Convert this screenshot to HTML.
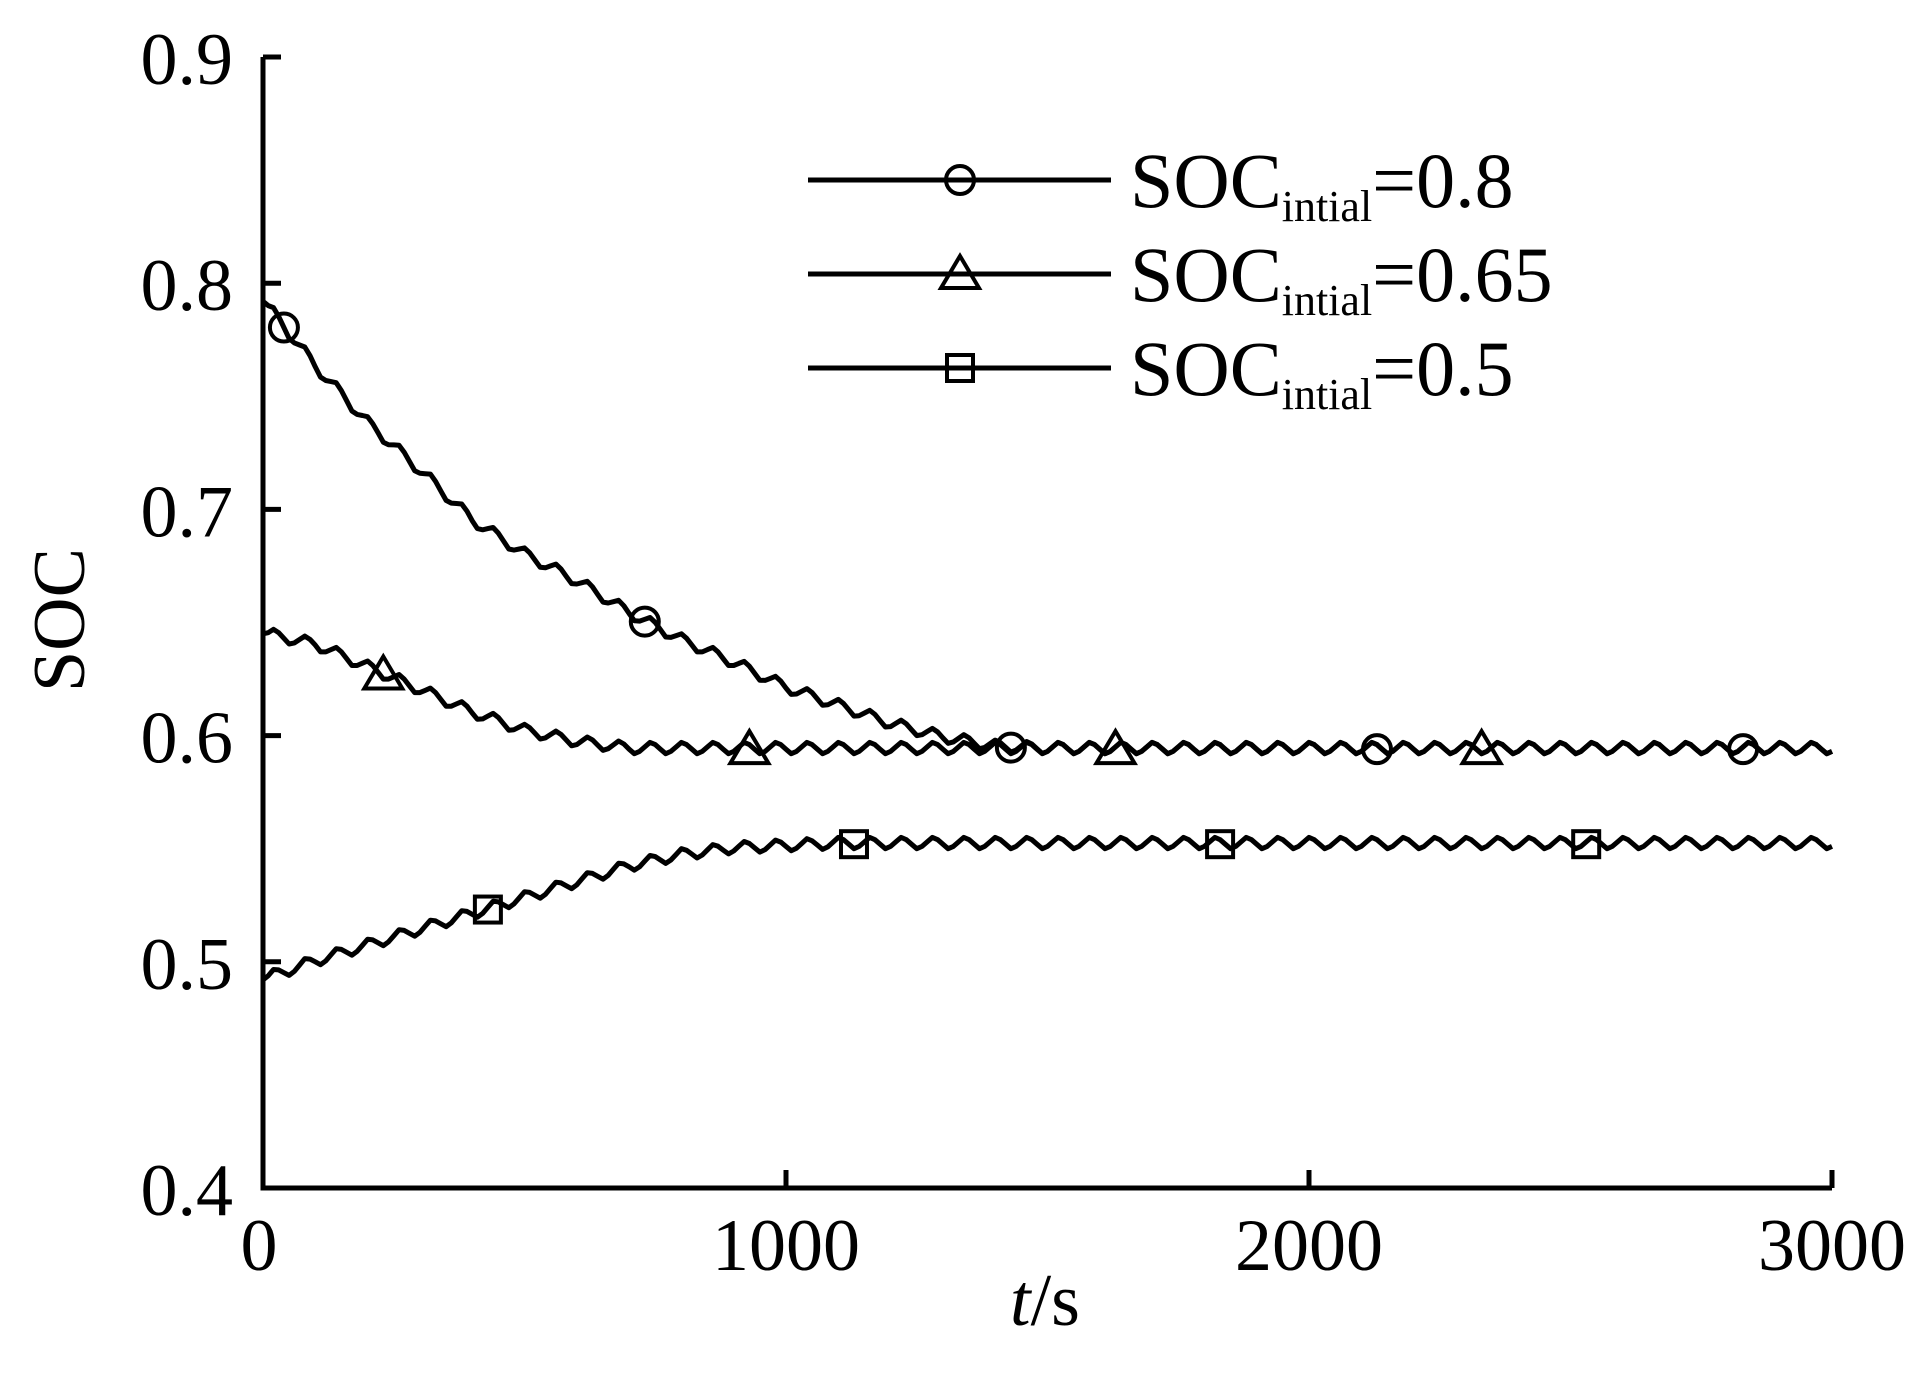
<!DOCTYPE html>
<html><head><meta charset="utf-8"><style>
html,body{margin:0;padding:0;background:#fff;}
svg{display:block;font-family:"Liberation Serif",serif;}
</style></head><body>
<svg id="chart" width="1925" height="1376" viewBox="0 0 1925 1376" xmlns="http://www.w3.org/2000/svg">
<g id="axes"></g>
<g id="series"></g>
<g id="legend"></g>
</svg>
<script>
const times = [0,100,200,300,400,500,600,700,800,900,1000,1100,1200,1300,1400,1500,1600,1700,1800,1900,2000,2100,2200,2300,2400,2500,2600,2700,2800,2900,3000];
const soc08 = [0.792,0.763,0.738,0.717,0.695,0.680,0.668,0.654,0.642,0.632,0.621,0.613,0.605,0.599,0.595,0.594,0.594,0.594,0.594,0.594,0.594,0.594,0.594,0.594,0.594,0.594,0.594,0.594,0.594,0.594,0.594];
const soc065 = [0.645,0.640,0.630,0.620,0.610,0.602,0.597,0.594,0.594,0.594,0.594,0.594,0.594,0.594,0.594,0.594,0.594,0.594,0.594,0.594,0.594,0.594,0.594,0.594,0.594,0.594,0.594,0.594,0.594,0.594,0.594];
const soc05 = [0.492,0.500,0.507,0.514,0.521,0.528,0.535,0.542,0.547,0.550,0.551,0.552,0.552,0.552,0.552,0.552,0.552,0.552,0.552,0.552,0.552,0.552,0.552,0.552,0.552,0.552,0.552,0.552,0.552,0.552,0.552];
const xTicks = [0,1000,2000,3000];
const yTicks = [0.4,0.5,0.6,0.7,0.8,0.9];
const yTickLabels = ["0.4","0.5","0.6","0.7","0.8","0.9"];
const circleTimes = [40,730,1430,2130,2830];
const triTimes = [230,930,1630,2330];
const sqTimes = [430,1130,1830,2530];
const legendLabels = ["=0.8","=0.65","=0.5"];

const NS="http://www.w3.org/2000/svg";
const X0=263,X1=1832,Y0=1188,Y1=57;
function xs(t){return X0+(t-0)/(3000-0)*(X1-X0);}
function ys(v){return Y0-(v-0.4)/(0.9-0.4)*(Y0-Y1);}
function mk(tag,attrs,parent){const e=document.createElementNS(NS,tag);for(const k in attrs)e.setAttribute(k,attrs[k]);parent.appendChild(e);return e;}
const axes=document.getElementById('axes'),series=document.getElementById('series'),legend=document.getElementById('legend');

let a=mk('path',{d:`M${X0},${Y1} V${Y0} H${X1}`,fill:'none',stroke:'#000','stroke-width':5},axes);


yTicks.forEach((v,i)=>{
  const t=mk('line',{x1:X0,x2:X0+18,y1:ys(v),y2:ys(v),stroke:'#000','stroke-width':5},axes);
  
  
  const l=mk('text',{x:233,y:ys(v)+27,'text-anchor':'end','font-size':74},axes);
  l.textContent=yTickLabels[i];
  
  
});
xTicks.forEach(v=>{
  const t=mk('line',{x1:xs(v),x2:xs(v),y1:Y0,y2:Y0-18,stroke:'#000','stroke-width':5},axes);
  
  
  const l=mk('text',{x:xs(v)-(v===0?4:0),y:1270,'text-anchor':'middle','font-size':74},axes);
  l.textContent=String(v);
  
  
});
let yt=mk('text',{x:0,y:0,'text-anchor':'middle','font-size':74,transform:'translate(84,620) rotate(-90)'},axes);
yt.textContent='SOC';


let xt=mk('text',{x:1045,y:1325,'text-anchor':'middle','font-size':74},axes);
xt.innerHTML='<tspan font-style="italic">t</tspan>/s';



function interp(arr,t){const i=Math.min(Math.floor(t/100),arr.length-2);const f=(t-times[i])/100;return arr[i]+(arr[i+1]-arr[i])*f;}
const ripple=[0,0.002,0.004,0.003,0.001,-0.001,-0.002];
function drawSeries(arr,name){
  let d='';
  for(let t=0;t<=3000;t+=10){
    const v=interp(arr,t)+(t>0?ripple[(t/10)%6]-0.001:0);
    d+=(t===0?'M':'L')+xs(t).toFixed(1)+','+ys(v).toFixed(1);
  }
  const p=mk('path',{d:d,fill:'none',stroke:'#000','stroke-width':5,'stroke-linejoin':'round'},series);
  
  
}
drawSeries(soc08,'line-soc-0-8');
drawSeries(soc065,'line-soc-0-65');
drawSeries(soc05,'line-soc-0-5');

function circle(x,y,par){const e=mk('circle',{cx:x,cy:y,r:14,fill:'none',stroke:'#000','stroke-width':4},par);}
function tri(x,y,par){const e=mk('path',{d:`M${x},${y-18} L${x+19},${y+14} L${x-19},${y+14} Z`,fill:'none',stroke:'#000','stroke-width':4},par);}
function sq(x,y,par){const e=mk('rect',{x:x-13,y:y-13,width:26,height:26,fill:'none',stroke:'#000','stroke-width':4},par);}
circleTimes.forEach(t=>circle(xs(t),ys(interp(soc08,t)),series));
triTimes.forEach(t=>tri(xs(t),ys(interp(soc065,t)),series));
sqTimes.forEach(t=>sq(xs(t),ys(interp(soc05,t)),series));

const ly=[180,274,368];
const mfn=[circle,tri,sq];
ly.forEach((y,i)=>{
  const g=mk('g',{},legend);
  
  
  mk('line',{x1:808,x2:1111,y1:y,y2:y,stroke:'#000','stroke-width':5},g);
  mfn[i](960,y,g);
  const tx=mk('text',{x:1130,y:y+27,'font-size':78},g);
  tx.innerHTML='SOC<tspan font-size="44" dy="14">intial</tspan><tspan dy="-14">'+legendLabels[i]+'</tspan>';
});
</script>
</body></html>
